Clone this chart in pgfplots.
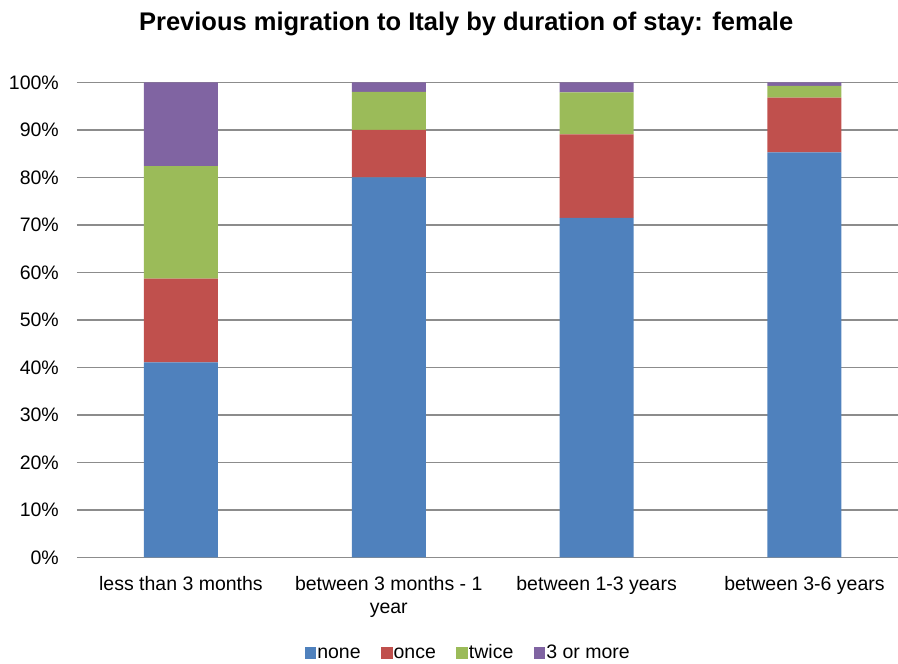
\documentclass[border=0pt]{standalone}
\usepackage{fontspec}
\setmainfont{Liberation Sans}
\usepackage{pgfplots}
\pgfplotsset{compat=1.18}

\definecolor{cnone}{HTML}{4F81BD}
\definecolor{conce}{HTML}{C0504D}
\definecolor{ctwice}{HTML}{9BBB59}
\definecolor{cmore}{HTML}{8064A2}
\definecolor{gridgray}{HTML}{8C8C8C}

\newcommand{\lblfont}{\fontsize{19.5}{22.5}\selectfont}

\begin{document}
\begin{tikzpicture}
\useasboundingbox (-77pt,-106.5pt) rectangle (821pt,557.5pt);
\begin{axis}[
    scale only axis,
    width=821pt, height=475pt,
    ybar stacked, bar width=74pt,
    every axis plot post/.append style={
        legend image code/.code={\fill[##1] (0pt,-5pt) rectangle (11.5pt,6.5pt);}},
    xmin=-0.5, xmax=3.45,
    ymin=0, ymax=100,
    xtick={0,1,2,3},
    xticklabels={less than 3 months, {between 3 months - 1\\year},
                 between 1-3 years, between 3-6 years},
    ytick={0,10,...,100},
    yticklabel={\pgfmathprintnumber{\tick}\%},
    /pgf/number format/assume math mode=true,
    ticklabel style={font=\lblfont, inner sep=0pt},
    xticklabel style={align=center, anchor=north, yshift=-19pt},
    yticklabel style={anchor=east, xshift=-18pt},
    major tick length=0pt,
    axis line style={draw=none},
    ymajorgrids,
    grid style={gridgray, line width=1.6pt},
    title={Previous migration to Italy by duration of stay: female},
    title style={font=\fontsize{25.5}{30}\selectfont\bfseries,
                 at={(0.474,1)}, anchor=base, yshift=45.5pt},
    legend columns=-1,
    legend style={at={(0.476,-0.203)}, anchor=center, draw=none,
                  font=\lblfont,
                  nodes={inner sep=1pt, text height=14pt, text depth=4pt},
                  /tikz/every even column/.append style={column sep=19.5pt}},
]
\addplot[fill=cnone, draw=none] coordinates {(0,41.1) (1,80.0) (2,71.5) (3,85.3)};
\addplot[fill=conce, draw=none] coordinates {(0,17.6) (1,10.0) (2,17.6) (3,11.5)};
\addplot[fill=ctwice, draw=none] coordinates {(0,23.7) (1,8.0) (2,8.8) (3,2.5)};
\addplot[fill=cmore, draw=none] coordinates {(0,17.6) (1,2.0) (2,2.1) (3,0.7)};
\legend{none, once, twice, 3 or more}
\end{axis}
\end{tikzpicture}
\end{document}
